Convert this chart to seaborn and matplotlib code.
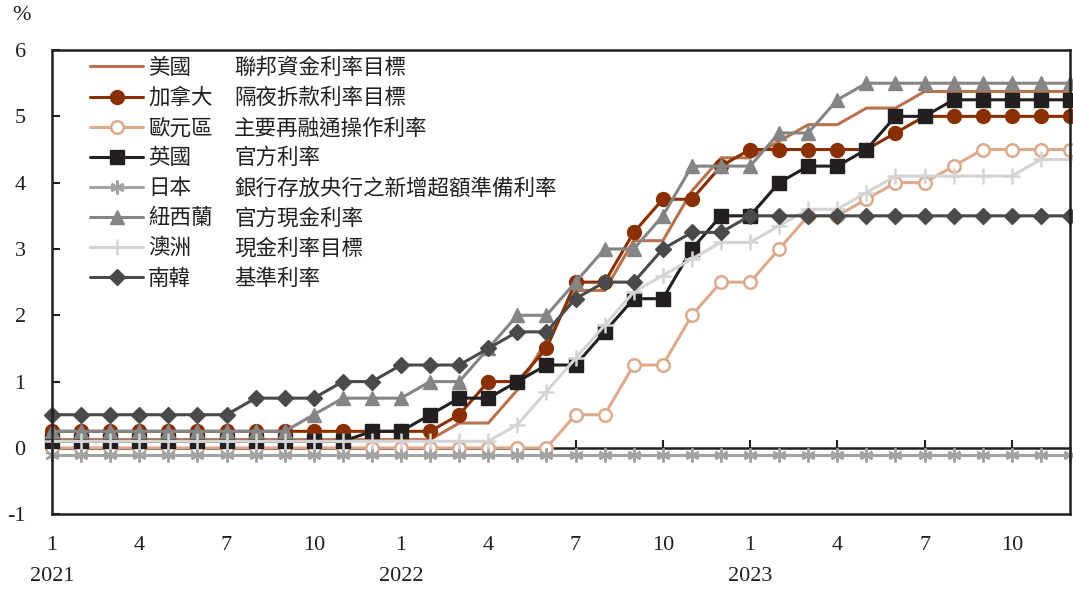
import numpy as np
import matplotlib
matplotlib.use("Agg")
import matplotlib.pyplot as plt
import seaborn as sns
from matplotlib.lines import Line2D
from matplotlib.font_manager import FontProperties

# Month-end policy rates, Jan 2021 - Dec 2023
months = [f"{y}-{m:02d}" for y in (2021, 2022, 2023) for m in range(1, 13)]

us = [0.125, 0.125, 0.125, 0.125, 0.125, 0.125, 0.125, 0.125, 0.125, 0.125, 0.125, 0.125,
      0.125, 0.125, 0.375, 0.375, 0.875, 1.625, 2.375, 2.375, 3.125, 3.125, 3.875, 4.375,
      4.375, 4.625, 4.875, 4.875, 5.125, 5.125, 5.375, 5.375, 5.375, 5.375, 5.375, 5.375]
canada = [0.25, 0.25, 0.25, 0.25, 0.25, 0.25, 0.25, 0.25, 0.25, 0.25, 0.25, 0.25,
          0.25, 0.25, 0.5, 1.0, 1.0, 1.5, 2.5, 2.5, 3.25, 3.75, 3.75, 4.25,
          4.5, 4.5, 4.5, 4.5, 4.5, 4.75, 5.0, 5.0, 5.0, 5.0, 5.0, 5.0]
euro = [0.0, 0.0, 0.0, 0.0, 0.0, 0.0, 0.0, 0.0, 0.0, 0.0, 0.0, 0.0,
        0.0, 0.0, 0.0, 0.0, 0.0, 0.0, 0.5, 0.5, 1.25, 1.25, 2.0, 2.5,
        2.5, 3.0, 3.5, 3.5, 3.75, 4.0, 4.0, 4.25, 4.5, 4.5, 4.5, 4.5]
uk = [0.1, 0.1, 0.1, 0.1, 0.1, 0.1, 0.1, 0.1, 0.1, 0.1, 0.1, 0.25,
      0.25, 0.5, 0.75, 0.75, 1.0, 1.25, 1.25, 1.75, 2.25, 2.25, 3.0, 3.5,
      3.5, 4.0, 4.25, 4.25, 4.5, 5.0, 5.0, 5.25, 5.25, 5.25, 5.25, 5.25]
japan = [-0.1, -0.1, -0.1, -0.1, -0.1, -0.1, -0.1, -0.1, -0.1, -0.1, -0.1, -0.1,
         -0.1, -0.1, -0.1, -0.1, -0.1, -0.1, -0.1, -0.1, -0.1, -0.1, -0.1, -0.1,
         -0.1, -0.1, -0.1, -0.1, -0.1, -0.1, -0.1, -0.1, -0.1, -0.1, -0.1, -0.1]
nz = [0.25, 0.25, 0.25, 0.25, 0.25, 0.25, 0.25, 0.25, 0.25, 0.5, 0.75, 0.75,
      0.75, 1.0, 1.0, 1.5, 2.0, 2.0, 2.5, 3.0, 3.0, 3.5, 4.25, 4.25,
      4.25, 4.75, 4.75, 5.25, 5.5, 5.5, 5.5, 5.5, 5.5, 5.5, 5.5, 5.5]
australia = [0.1, 0.1, 0.1, 0.1, 0.1, 0.1, 0.1, 0.1, 0.1, 0.1, 0.1, 0.1,
             0.1, 0.1, 0.1, 0.1, 0.35, 0.85, 1.35, 1.85, 2.35, 2.6, 2.85, 3.1,
             3.1, 3.35, 3.6, 3.6, 3.85, 4.1, 4.1, 4.1, 4.1, 4.1, 4.35, 4.35]
korea = [0.5, 0.5, 0.5, 0.5, 0.5, 0.5, 0.5, 0.75, 0.75, 0.75, 1.0, 1.0,
         1.25, 1.25, 1.25, 1.5, 1.75, 1.75, 2.25, 2.5, 2.5, 3.0, 3.25, 3.25,
         3.5, 3.5, 3.5, 3.5, 3.5, 3.5, 3.5, 3.5, 3.5, 3.5, 3.5, 3.5]

names = ["美國", "加拿大", "歐元區", "英國", "日本", "紐西蘭", "澳洲", "南韓"]
descs = ["聯邦資金利率目標", "隔夜拆款利率目標", "主要再融通操作利率", "官方利率",
         "銀行存放央行之新增超額準備利率", "官方現金利率", "現金利率目標", "基準利率"]
series = [us, canada, euro, uk, japan, nz, australia, korea]

y_ticks = ["-1", "0", "1", "2", "3", "4", "5", "6"]

# Line styles: colour, marker, face colour, marker size
styles = [
    ("#B8734E", "None", None, 0),
    ("#8A2F00", "o", "#8A2F00", 10),
    ("#DDAA8C", "o", "white", 9),
    ("#231F20", "s", "#231F20", 9.5),
    ("#A3A3A3", (6, 2, 0), "#A3A3A3", 10),
    ("#858585", "^", "#858585", 10),
    ("#D4D4D4", "+", "#D4D4D4", 11),
    ("#4A4A4A", "D", "#4A4A4A", 8),
]

sns.set_theme(style="ticks")
plt.rcParams["font.family"] = ["Liberation Serif", "Noto Sans CJK TC"]
plt.rcParams["axes.unicode_minus"] = False

fig, ax = plt.subplots(figsize=(10.73, 5.89), dpi=100)
fig.subplots_adjust(left=0.0485, right=0.9972, top=0.915, bottom=0.127)

x = np.arange(len(months))
handles = []
for vals, name, (col, mk, mfc, ms) in zip(series, names, styles):
    mew = 1.8 if mk in ("+", (6, 2, 0)) or mfc == "white" else 1.0
    sns.lineplot(x=x, y=vals, ax=ax, color=col, linewidth=2.2, marker=mk,
                 markersize=ms, markerfacecolor=mfc, markeredgecolor=col,
                 markeredgewidth=mew, clip_on=False, legend=False)
    handles.append(Line2D([], [], color=col, linewidth=2.2, marker=mk,
                          markersize=ms, markerfacecolor=mfc,
                          markeredgecolor=col, markeredgewidth=mew))

ax.set_xlim(0, len(months) - 1)
ax.set_ylim(-1, 6)
ax.set_yticks(np.arange(-1, 7))
ax.set_yticklabels(y_ticks)

tick_pos = [i for i, m in enumerate(months) if int(m[5:]) in (1, 4, 7, 10)]
tick_lab = []
for i in tick_pos:
    yr, mo = months[i][:4], str(int(months[i][5:]))
    tick_lab.append(f"{mo}\n{yr}" if mo == "1" else mo)
ax.set_xticks(tick_pos)
ax.set_xticklabels(tick_lab)
for t in ax.get_xticklabels():
    t.set_linespacing(1.8)

for sp in ax.spines.values():
    sp.set_visible(True)
    sp.set_color("#231F20")
    sp.set_linewidth(1.8)
    sp.set_zorder(5)

ax.tick_params(axis="y", direction="in", length=6, width=1.5, pad=19,
               labelsize=16, colors="#231F20", left=True)
ax.tick_params(axis="x", length=0, pad=16, labelsize=16, colors="#231F20")

# Zero line with month ticks pointing upward
zero_ax = ax.secondary_xaxis(0, transform=ax.transData)
zero_ax.set_xticks(tick_pos)
zero_ax.tick_params(direction="in", length=6, width=1.5, labelbottom=False,
                    color="#231F20")
zero_ax.spines["bottom"].set_linewidth(1.8)
zero_ax.spines["bottom"].set_color("#231F20")

cjk = FontProperties(family="Noto Sans CJK TC", size=15.5)
leg = ax.legend(handles, names, loc="upper left", bbox_to_anchor=(0.0373, 0.985),
                frameon=False, borderpad=0, borderaxespad=0, handlelength=2.47,
                handletextpad=0.23, labelspacing=0.375, prop=cjk)
for t in leg.get_texts():
    t.set_color("#231F20")

fig.canvas.draw()
inv = fig.transFigure.inverted()
for t, d in zip(leg.get_texts(), descs):
    bb = t.get_window_extent()
    fx, fy = inv.transform((234, (bb.y0 + bb.y1) / 2))
    fig.text(fx, fy, d, fontproperties=cjk, va="center", ha="left", color="#231F20")

fig.text(12 / 1073, 1 - 16 / 589, "%", fontsize=16, va="center", ha="left",
         color="#231F20")

fig.savefig("out.png", dpi=100)
